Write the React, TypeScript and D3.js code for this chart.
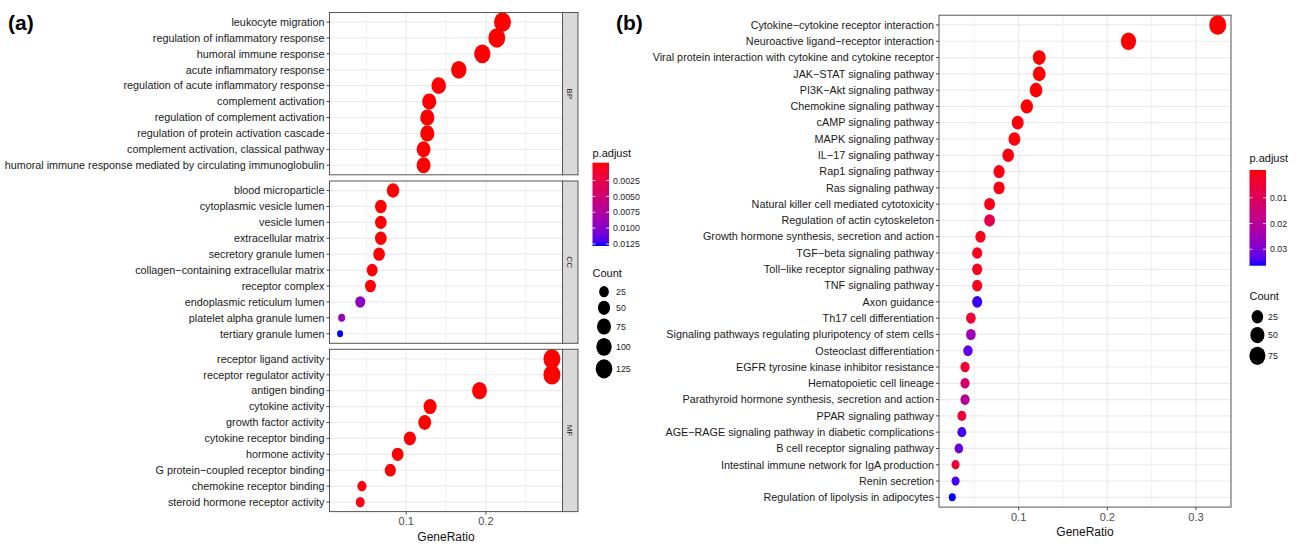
import React, { useEffect, useRef } from 'react';
import * as d3 from 'd3';

// ---- panel (a): GO enrichment, three facets ----
const bpTerms = [
  'leukocyte migration',
  'regulation of inflammatory response',
  'humoral immune response',
  'acute inflammatory response',
  'regulation of acute inflammatory response',
  'complement activation',
  'regulation of complement activation',
  'regulation of protein activation cascade',
  'complement activation, classical pathway',
  'humoral immune response mediated by circulating immunoglobulin',
];
const bpRatio = [0.2208, 0.2137, 0.1955, 0.166, 0.1408, 0.1289, 0.1265, 0.1265, 0.1218, 0.1218];
const bpCount = [132, 128, 117, 100, 84, 77, 76, 76, 73, 73];
const bpPadj = [1e-12, 3e-11, 5e-10, 2e-8, 4e-7, 1e-6, 3e-6, 5e-6, 8e-6, 9e-6];

const ccTerms = [
  'blood microparticle',
  'cytoplasmic vesicle lumen',
  'vesicle lumen',
  'extracellular matrix',
  'secretory granule lumen',
  'collagen\u2212containing extracellular matrix',
  'receptor complex',
  'endoplasmic reticulum lumen',
  'platelet alpha granule lumen',
  'tertiary granule lumen',
];
const ccRatio = [0.0835, 0.0682, 0.0682, 0.0682, 0.066, 0.0573, 0.0552, 0.0424, 0.0191, 0.0171];
const ccCount = [53, 43, 43, 43, 42, 36, 35, 27, 12, 11];
const ccPadj = [2e-8, 1e-5, 1e-5, 2e-5, 3e-5, 2e-4, 1e-4, 0.0094, 0.0088, 0.0125];

const mfTerms = [
  'receptor ligand activity',
  'receptor regulator activity',
  'antigen binding',
  'cytokine activity',
  'growth factor activity',
  'cytokine receptor binding',
  'hormone activity',
  'G protein\u2212coupled receptor binding',
  'chemokine receptor binding',
  'steroid hormone receptor activity',
];
const mfRatio = [0.2828, 0.2828, 0.192, 0.13, 0.1233, 0.1046, 0.0893, 0.0801, 0.0445, 0.0424];
const mfCount = [132, 132, 90, 61, 58, 49, 42, 37, 21, 20];
const mfPadj = [1e-15, 1e-14, 1e-9, 1e-8, 5e-7, 1e-6, 4e-6, 2e-5, 3e-4, 5e-4];

const facetNames = ['BP', 'CC', 'MF'];
const ticksA = [0.1, 0.2];
const colorTicksA = [0.0025, 0.005, 0.0075, 0.01, 0.0125];
const sizeBreaksA = [25, 50, 75, 100, 125];

// ---- panel (b): KEGG enrichment ----
const keggTerms = [
  'Cytokine\u2212cytokine receptor interaction',
  'Neuroactive ligand\u2212receptor interaction',
  'Viral protein interaction with cytokine and cytokine receptor',
  'JAK\u2212STAT signaling pathway',
  'PI3K\u2212Akt signaling pathway',
  'Chemokine signaling pathway',
  'cAMP signaling pathway',
  'MAPK signaling pathway',
  'IL\u221217 signaling pathway',
  'Rap1 signaling pathway',
  'Ras signaling pathway',
  'Natural killer cell mediated cytotoxicity',
  'Regulation of actin cytoskeleton',
  'Growth hormone synthesis, secretion and action',
  'TGF\u2212beta signaling pathway',
  'Toll\u2212like receptor signaling pathway',
  'TNF signaling pathway',
  'Axon guidance',
  'Th17 cell differentiation',
  'Signaling pathways regulating pluripotency of stem cells',
  'Osteoclast differentiation',
  'EGFR tyrosine kinase inhibitor resistance',
  'Hematopoietic cell lineage',
  'Parathyroid hormone synthesis, secretion and action',
  'PPAR signaling pathway',
  'AGE\u2212RAGE signaling pathway in diabetic complications',
  'B cell receptor signaling pathway',
  'Intestinal immune network for IgA production',
  'Renin secretion',
  'Regulation of lipolysis in adipocytes',
];
const keggRatio = [
  0.3246, 0.2239, 0.1232, 0.1232, 0.1196, 0.1092, 0.0989, 0.0952, 0.0882, 0.0779,
  0.0779, 0.0672, 0.0672, 0.0569, 0.0532, 0.0532, 0.0532, 0.0532, 0.0461, 0.0461,
  0.0428, 0.0395, 0.0395, 0.0395, 0.0359, 0.0359, 0.0325, 0.0288, 0.0288, 0.0251,
];
const keggCount = [
  91, 63, 35, 35, 34, 31, 28, 27, 25, 22,
  22, 19, 19, 16, 15, 15, 15, 15, 13, 13,
  12, 11, 11, 11, 10, 10, 9, 8, 8, 7,
];
const keggPadj = [
  1e-10, 1e-8, 2e-7, 3e-7, 5e-6, 1e-5, 4e-4, 6e-4, 8e-4, 1e-3,
  1.2e-3, 1.5e-3, 0.0085, 1.8e-3, 2e-3, 2.2e-3, 2.4e-3, 0.0345, 0.0042, 0.0245,
  0.032, 0.0045, 0.0135, 0.0205, 0.0055, 0.034, 0.031, 0.0055, 0.034, 0.0356,
];
const ticksB = [0.1, 0.2, 0.3];
const colorTicksB = [0.01, 0.02, 0.03];
const sizeBreaksB = [25, 50, 75];

const FONT = '"Liberation Sans", Arial, Helvetica, sans-serif';
const ASPECT = 1.15; // dots are slightly taller than wide

type Row = { term: string; ratio: number; count: number; padj: number };
const rows = (t: string[], r: number[], c: number[], p: number[]): Row[] =>
  t.map((term, i) => ({ term, ratio: r[i], count: c[i], padj: p[i] }));

const App: React.FC = () => {
  const ref = useRef<SVGSVGElement | null>(null);

  useEffect(() => {
    if (!ref.current) return;
    const svg = d3.select(ref.current);
    svg.selectAll('*').remove();
    const defs = svg.append('defs');

    const expand = (vals: number[]) => {
      const [lo, hi] = d3.extent(vals) as [number, number];
      const r = hi - lo;
      return [lo - r * 0.05, hi + r * 0.05];
    };

    const sizeScale = (counts: number[], dMin: number, dMax: number) => {
      const [lo, hi] = d3.extent(counts) as [number, number];
      const s = d3.scaleSqrt().domain([0, hi - lo]).range([dMin, dMax]);
      return (c: number) => s(Math.max(0, c - lo)) / 2;
    };

    const colorScale = (padj: number[]) => {
      const [lo, hi] = d3.extent(padj) as [number, number];
      return d3.scaleLinear<string>().domain([lo, hi]).range(['#FF0000', '#0000FF'])
        .interpolate(d3.interpolateLab);
    };

    // one facet panel: background, grid, dots, axis
    const drawPanel = (
      g: d3.Selection<SVGGElement, unknown, null, undefined>,
      data: Row[], x: d3.ScaleLinear<number, number>,
      top: number, bottom: number,
      radius: (c: number) => number, color: d3.ScaleLinear<string, string>,
      minor: number[], major: number[]
    ) => {
      const [x0, x1] = x.range();
      const y = d3.scalePoint<string>().domain(data.map(d => d.term)).range([top, bottom]).padding(0.6);
      g.append('rect').attr('x', x0).attr('y', top).attr('width', x1 - x0).attr('height', bottom - top).attr('fill', '#fff');
      g.selectAll('.minor').data(minor).enter().append('line')
        .attr('x1', d => x(d)).attr('x2', d => x(d)).attr('y1', top).attr('y2', bottom)
        .attr('stroke', '#EBEBEB').attr('stroke-width', 0.8);
      g.selectAll('.major').data(major).enter().append('line')
        .attr('x1', d => x(d)).attr('x2', d => x(d)).attr('y1', top).attr('y2', bottom)
        .attr('stroke', '#EBEBEB').attr('stroke-width', 1.2);
      g.selectAll('.hgrid').data(data).enter().append('line')
        .attr('x1', x0).attr('x2', x1).attr('y1', d => y(d.term)!).attr('y2', d => y(d.term)!)
        .attr('stroke', '#EBEBEB').attr('stroke-width', 1.2);
      g.selectAll('.dot').data(data).enter().append('ellipse')
        .attr('cx', d => x(d.ratio)).attr('cy', d => y(d.term)!)
        .attr('rx', d => radius(d.count)).attr('ry', d => radius(d.count) * ASPECT)
        .attr('fill', d => color(d.padj));
      g.append('rect').attr('x', x0).attr('y', top).attr('width', x1 - x0).attr('height', bottom - top)
        .attr('fill', 'none').attr('stroke', '#555').attr('stroke-width', 1);
      // y axis
      g.selectAll('.ytick').data(data).enter().append('line')
        .attr('x1', x0 - 3).attr('x2', x0).attr('y1', d => y(d.term)!).attr('y2', d => y(d.term)!)
        .attr('stroke', '#444').attr('stroke-width', 1);
      g.selectAll('.ylab').data(data).enter().append('text')
        .attr('x', x0 - 5).attr('y', d => y(d.term)!).attr('dy', '0.35em')
        .attr('text-anchor', 'end').attr('font-size', 10.8).attr('fill', '#1A1A1A')
        .text(d => d.term);
    };

    const drawXAxis = (x: d3.ScaleLinear<number, number>, bottom: number, ticks: number[]) => {
      const cx = (x.range()[0] + x.range()[1]) / 2;
      const g = svg.append('g').attr('font-family', FONT);
      g.selectAll('line').data(ticks).enter().append('line')
        .attr('x1', d => x(d)).attr('x2', d => x(d)).attr('y1', bottom).attr('y2', bottom + 3)
        .attr('stroke', '#444');
      g.selectAll('text').data(ticks).enter().append('text')
        .attr('x', d => x(d)).attr('y', bottom + 10).attr('dy', '0.35em')
        .attr('text-anchor', 'middle').attr('font-size', 11).attr('fill', '#4D4D4D')
        .text(d => d3.format('.1f')(d));
      g.append('text').attr('x', cx).attr('y', bottom + 25).attr('dy', '0.35em')
        .attr('text-anchor', 'middle').attr('font-size', 12).attr('fill', '#111').text('GeneRatio');
    };

    const drawColorLegend = (
      id: string, color: d3.ScaleLinear<string, string>, ticks: number[],
      x0: number, titleY: number, top: number, bottom: number, fmt: (v: number) => string
    ) => {
      const w = 16.5;
      const [lo, hi] = color.domain();
      const grad = defs.append('linearGradient').attr('id', id)
        .attr('x1', 0).attr('x2', 0).attr('y1', 0).attr('y2', 1);
      d3.range(0, 1.0001, 0.05).forEach(t => {
        grad.append('stop').attr('offset', t).attr('stop-color', color(lo + t * (hi - lo)));
      });
      const pos = d3.scaleLinear().domain([lo, hi]).range([top + 2, bottom - 2]);
      const g = svg.append('g').attr('font-family', FONT);
      g.append('text').attr('x', x0).attr('y', titleY).attr('dy', '0.35em')
        .attr('font-size', 11).attr('fill', '#111').text('p.adjust');
      g.append('rect').attr('x', x0).attr('y', top).attr('width', w).attr('height', bottom - top)
        .attr('fill', `url(#${id})`);
      ticks.forEach(t => {
        g.append('line').attr('x1', x0).attr('x2', x0 + 3).attr('y1', pos(t)).attr('y2', pos(t))
          .attr('stroke', '#fff').attr('stroke-width', 0.8);
        g.append('line').attr('x1', x0 + w - 3).attr('x2', x0 + w).attr('y1', pos(t)).attr('y2', pos(t))
          .attr('stroke', '#fff').attr('stroke-width', 0.8);
      });
      g.selectAll('.lab').data(ticks).enter().append('text')
        .attr('x', x0 + w + 4).attr('y', d => pos(d)).attr('dy', '0.35em')
        .attr('font-size', 8.8).attr('fill', '#222').text(d => fmt(d));
    };

    const drawSizeLegend = (
      breaks: number[], radius: (c: number) => number,
      x0: number, titleY: number, firstY: number, cx: number, labelX: number
    ) => {
      const g = svg.append('g').attr('font-family', FONT);
      g.append('text').attr('x', x0).attr('y', titleY).attr('dy', '0.35em')
        .attr('font-size', 11).attr('fill', '#111').text('Count');
      let yy = firstY;
      breaks.forEach((b, i) => {
        if (i > 0) {
          const hPrev = radius(breaks[i - 1]) * ASPECT;
          const hCur = radius(b) * ASPECT;
          yy += hPrev + hCur + 3.5;
        }
        g.append('ellipse').attr('cx', cx).attr('cy', yy)
          .attr('rx', radius(b)).attr('ry', radius(b) * ASPECT).attr('fill', '#000');
        g.append('text').attr('x', labelX).attr('y', yy).attr('dy', '0.35em')
          .attr('font-size', 8.8).attr('fill', '#222').text(b);
      });
    };

    // ---------------- panel (a) ----------------
    const facets = [
      rows(bpTerms, bpRatio, bpCount, bpPadj),
      rows(ccTerms, ccRatio, ccCount, ccPadj),
      rows(mfTerms, mfRatio, mfCount, mfPadj),
    ];
    const allA = facets.flat();
    const xA = d3.scaleLinear().domain(expand(allA.map(d => d.ratio))).range([329.5, 562.5]);
    const rA = sizeScale(allA.map(d => d.count), 6, 17);
    const cA = colorScale(allA.map(d => d.padj));
    const facetTop = [12.5, 181, 349.3];
    const facetH = 162.3;
    const gA = svg.append('g').attr('font-family', FONT);
    facets.forEach((data, i) => {
      const top = facetTop[i];
      const bottom = top + facetH;
      drawPanel(gA, data, xA, top, bottom, rA, cA, [0.05, 0.15, 0.25], ticksA);
      gA.append('rect').attr('x', 562.5).attr('y', top).attr('width', 15.5).attr('height', facetH)
        .attr('fill', '#D9D9D9').attr('stroke', '#555').attr('stroke-width', 1);
      gA.append('text')
        .attr('transform', `translate(570.3,${top + facetH / 2}) rotate(90)`)
        .attr('text-anchor', 'middle').attr('dy', '0.35em')
        .attr('font-size', 8).attr('fill', '#1A1A1A').text(facetNames[i]);
    });
    drawXAxis(xA, facetTop[2] + facetH, ticksA);
    drawColorLegend('gradA', cA, colorTicksA, 592.5, 153, 162.7, 246, d3.format('.4f'));
    drawSizeLegend(sizeBreaksA, rA, 592.5, 273, 291.7, 604, 616);

    // ---------------- panel (b) ----------------
    const kegg = rows(keggTerms, keggRatio, keggCount, keggPadj);
    const xB = d3.scaleLinear().domain(expand(kegg.map(d => d.ratio))).range([939, 1231]);
    const rB = sizeScale(kegg.map(d => d.count), 7, 17);
    const cB = colorScale(kegg.map(d => d.padj));
    const gB = svg.append('g').attr('font-family', FONT);
    drawPanel(gB, kegg, xB, 15.2, 507.1, rB, cB, [0.05, 0.15, 0.25], ticksB);
    drawXAxis(xB, 507.1, ticksB);
    drawColorLegend('gradB', cB, colorTicksB, 1249.5, 158, 170, 265.7, d3.format('.2f'));
    drawSizeLegend(sizeBreaksB, rB, 1249.5, 296, 316.7, 1257.4, 1268);

    // panel tags
    svg.append('text').attr('x', 8).attr('y', 30).attr('font-family', FONT)
      .attr('font-weight', 'bold').attr('font-size', 21).attr('fill', '#000').text('(a)');
    svg.append('text').attr('x', 616).attr('y', 30).attr('font-family', FONT)
      .attr('font-weight', 'bold').attr('font-size', 21).attr('fill', '#000').text('(b)');
  }, []);

  return (
    <svg ref={ref} width={1296} height={544}
      style={{ position: 'absolute', left: 0, top: 0, background: '#fff' }} />
  );
};

export default App;
